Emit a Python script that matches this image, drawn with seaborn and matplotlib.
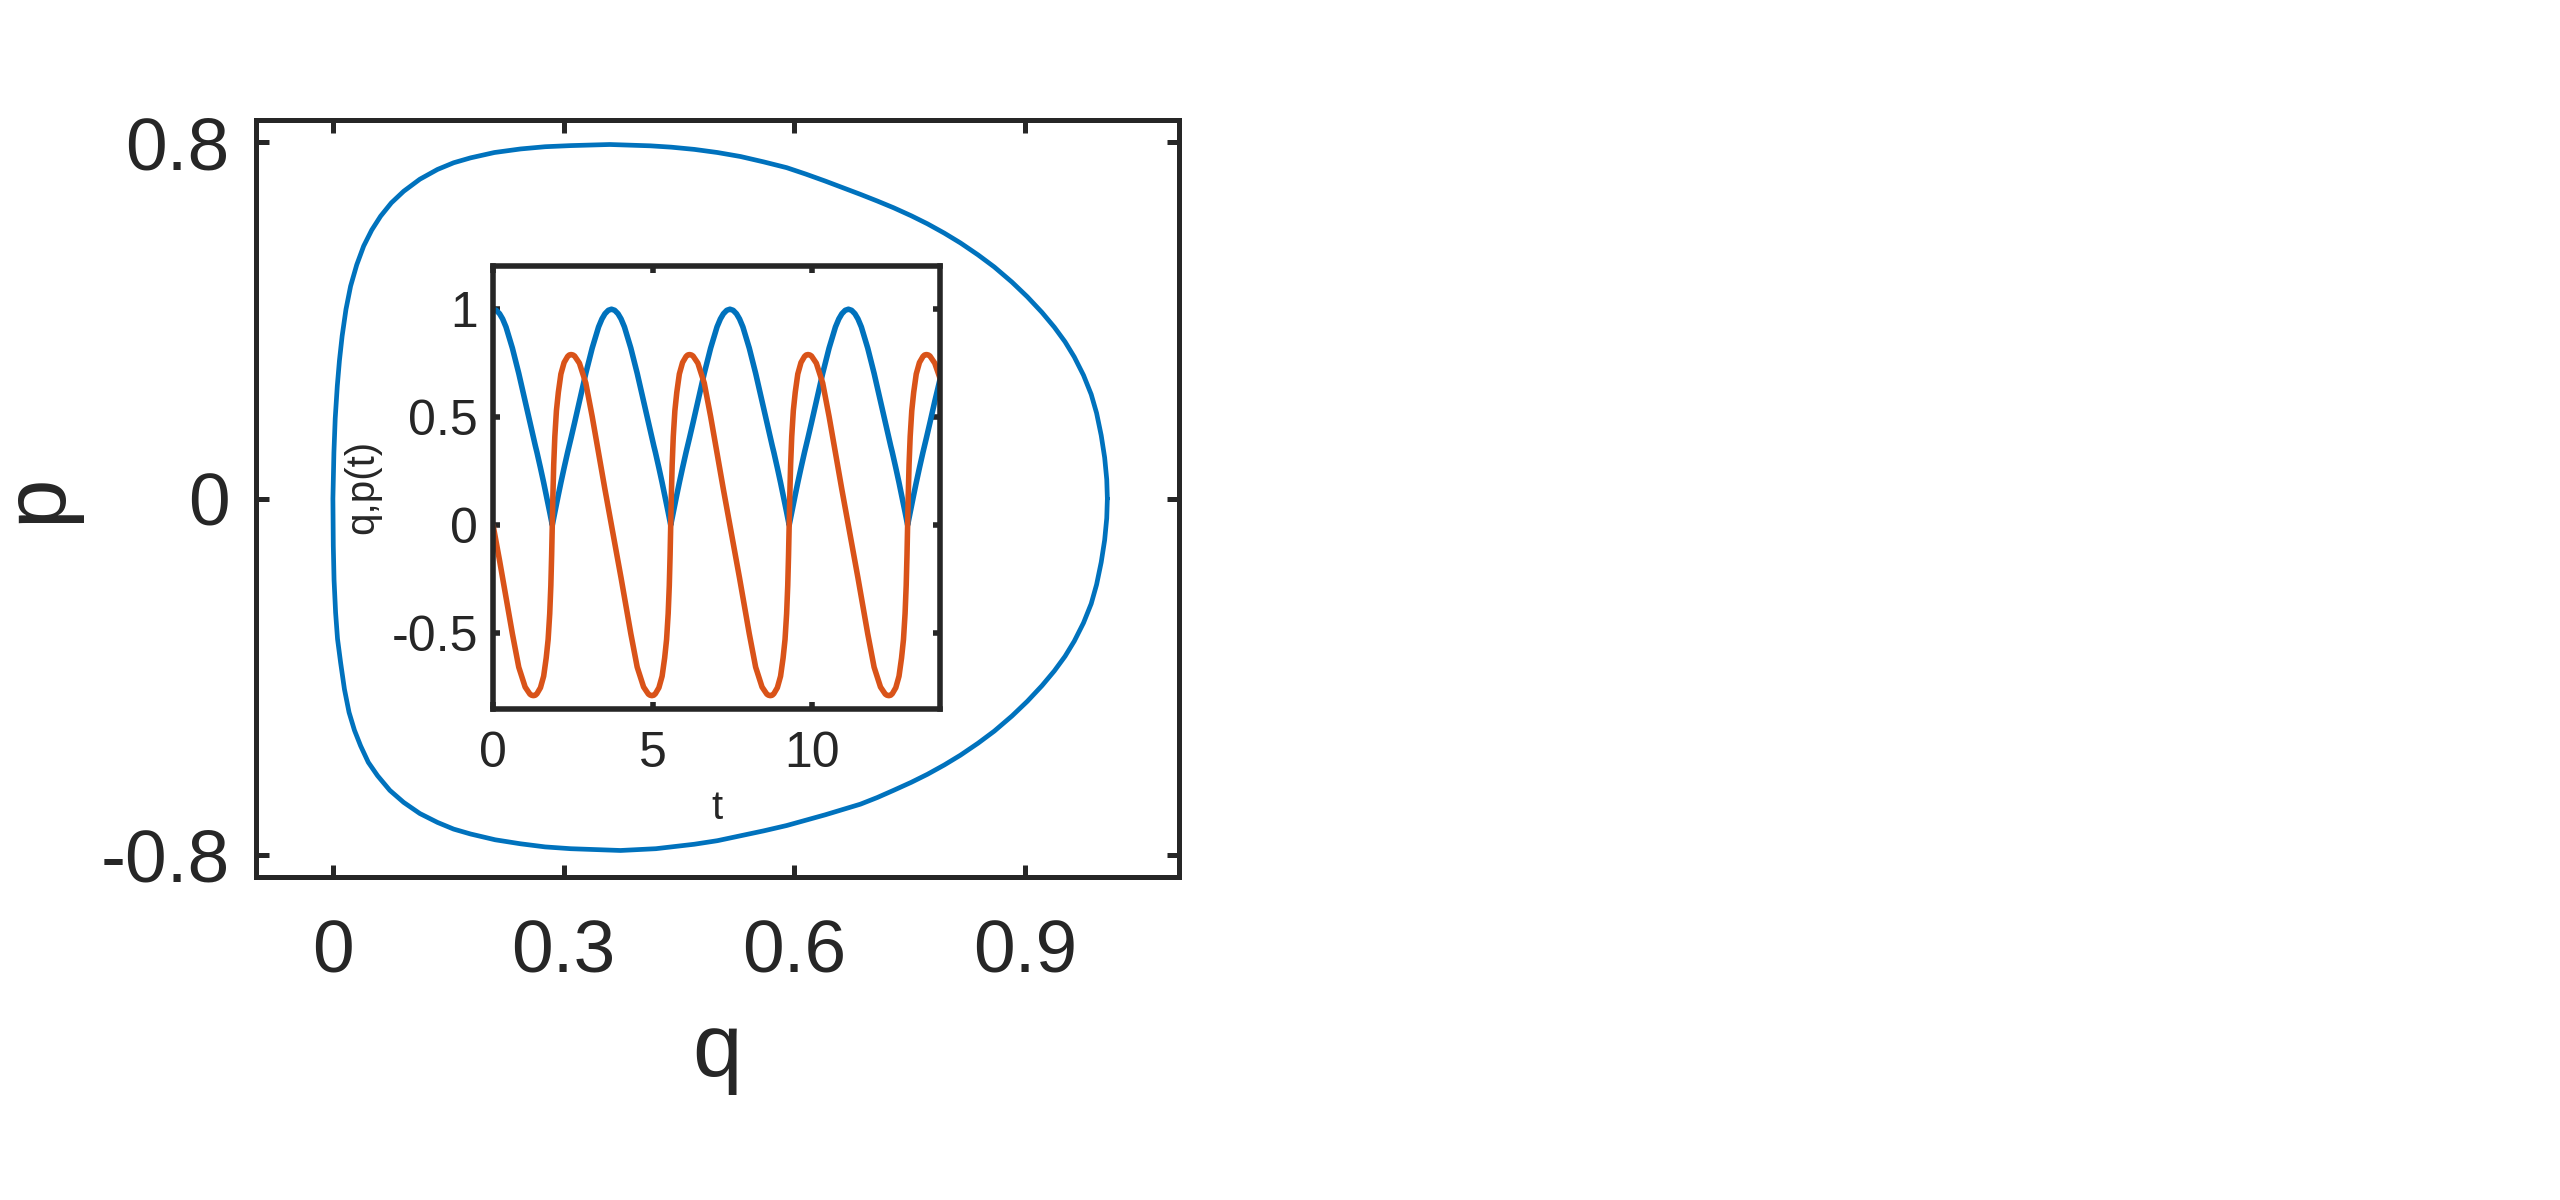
import matplotlib
matplotlib.use('Agg')
import matplotlib.pyplot as plt
import seaborn as sns
import pandas as pd

sns.set_theme(style='white')
plt.rcParams['font.family'] = ['Liberation Sans', 'DejaVu Sans']
plt.rcParams['axes.unicode_minus'] = False

BLUE = '#0072BD'
ORANGE = '#D95319'
INK = '#262626'

# -------------------------------------------------------------
# phase-space orbit (q, p)
# upper branch right -> left, then lower branch left -> right
# -------------------------------------------------------------
orbit_q = [1.007, 1.0062, 1.0035, 0.999, 0.993, 0.986, 0.976, 0.964, 0.952, 0.938,
           0.922, 0.903, 0.883, 0.860, 0.839, 0.816, 0.795, 0.773, 0.752, 0.729,
           0.708, 0.686, 0.663, 0.640, 0.615, 0.590, 0.560, 0.530, 0.500, 0.470, 0.440,
           0.413, 0.360, 0.309, 0.276, 0.244, 0.210, 0.179, 0.157, 0.136, 0.113,
           0.092, 0.076, 0.062, 0.0505, 0.040, 0.031, 0.023, 0.017, 0.012, 0.0085,
           0.0057, 0.003, 0.0013, 0.0,
           0.0005, 0.0015, 0.0035, 0.006, 0.010, 0.015, 0.021, 0.028, 0.036, 0.046,
           0.058, 0.074, 0.092, 0.113, 0.136, 0.157, 0.179, 0.211, 0.244, 0.276,
           0.309, 0.374, 0.420, 0.470, 0.500, 0.530, 0.560, 0.590, 0.615, 0.640,
           0.663, 0.686, 0.708, 0.729, 0.752, 0.773, 0.795, 0.816, 0.839, 0.860,
           0.883, 0.903, 0.922, 0.938, 0.952, 0.964, 0.976, 0.986, 0.993, 0.999,
           1.0035, 1.0062, 1.007]
orbit_p = [0.0, 0.043, 0.092, 0.142, 0.192, 0.234, 0.277, 0.318, 0.352, 0.385,
           0.418, 0.453, 0.486, 0.520, 0.547, 0.574, 0.596, 0.617, 0.635, 0.653,
           0.668, 0.683, 0.698, 0.713, 0.7285, 0.743, 0.756, 0.768, 0.777, 0.784, 0.789,
           0.792, 0.795, 0.7925, 0.790, 0.785, 0.777, 0.765, 0.754, 0.739, 0.717,
           0.690, 0.664, 0.634, 0.603, 0.567, 0.525, 0.477, 0.425, 0.365, 0.310,
           0.253, 0.180, 0.103, 0.0,
           -0.106, -0.183, -0.256, -0.315, -0.368, -0.428, -0.480, -0.520, -0.555, -0.592,
           -0.622, -0.655, -0.682, -0.707, -0.727, -0.742, -0.753, -0.766, -0.775, -0.782,
           -0.786, -0.790, -0.786, -0.776, -0.768, -0.757, -0.746, -0.734, -0.722, -0.710,
           -0.698, -0.686, -0.671, -0.655, -0.637, -0.619, -0.598, -0.576, -0.549, -0.522,
           -0.488, -0.455, -0.420, -0.387, -0.354, -0.320, -0.279, -0.236, -0.193, -0.143,
           -0.093, -0.044, 0.0]

# -------------------------------------------------------------
# time series for the inset (four cycles)
# -------------------------------------------------------------
t_vals = ([0.000, 0.100, 0.205, 0.300, 0.405, 0.605, 0.805, 1.005, 1.155, 1.205, 1.265,
           1.325, 1.375, 1.485, 1.585, 1.665, 1.725, 1.775, 1.810, 1.835, 1.855,
           1.875, 1.900, 1.935, 1.985, 2.045, 2.125, 2.225, 2.335, 2.385, 2.445,
           2.505, 2.555, 2.705, 2.905, 3.105, 3.305, 3.410, 3.505, 3.610, 3.710]
          + [3.810, 3.915, 4.010, 4.115, 4.315, 4.515, 4.715, 4.865, 4.915, 4.975,
             5.035, 5.085, 5.195, 5.295, 5.375, 5.435, 5.485, 5.520, 5.545, 5.565,
             5.585, 5.610, 5.645, 5.695, 5.755, 5.835, 5.935, 6.045, 6.095, 6.155,
             6.215, 6.265, 6.415, 6.615, 6.815, 7.015, 7.120, 7.215, 7.320, 7.420]
          + [7.520, 7.625, 7.720, 7.825, 8.025, 8.225, 8.425, 8.575, 8.625, 8.685,
             8.745, 8.795, 8.905, 9.005, 9.085, 9.145, 9.195, 9.230, 9.255, 9.275,
             9.295, 9.320, 9.355, 9.405, 9.465, 9.545, 9.645, 9.755, 9.805, 9.865,
             9.925, 9.975, 10.125, 10.325, 10.525, 10.725, 10.830, 10.925, 11.030, 11.130]
          + [11.230, 11.335, 11.430, 11.535, 11.735, 11.935, 12.135, 12.285, 12.335, 12.395,
             12.455, 12.505, 12.615, 12.715, 12.795, 12.855, 12.905, 12.940, 12.965, 12.985,
             13.005, 13.030, 13.065, 13.115, 13.175, 13.255, 13.355, 13.465, 13.515, 13.575,
             13.635, 13.685, 13.835, 14.000])

q_vals = ([1.000, 0.995, 0.979, 0.955, 0.918, 0.820, 0.703, 0.573, 0.475, 0.442, 0.405,
           0.367, 0.337, 0.265, 0.197, 0.140, 0.097, 0.060, 0.034, 0.015, 0.000,
           0.015, 0.034, 0.060, 0.097, 0.140, 0.197, 0.265, 0.337, 0.367, 0.405,
           0.442, 0.475, 0.573, 0.703, 0.820, 0.918, 0.955, 0.979, 0.995, 1.000]
          + [0.995, 0.979, 0.955, 0.918, 0.820, 0.703, 0.573, 0.475, 0.442, 0.405,
             0.367, 0.337, 0.265, 0.197, 0.140, 0.097, 0.060, 0.034, 0.015, 0.000,
             0.015, 0.034, 0.060, 0.097, 0.140, 0.197, 0.265, 0.337, 0.367, 0.405,
             0.442, 0.475, 0.573, 0.703, 0.820, 0.918, 0.955, 0.979, 0.995, 1.000]
          + [0.995, 0.979, 0.955, 0.918, 0.820, 0.703, 0.573, 0.475, 0.442, 0.405,
             0.367, 0.337, 0.265, 0.197, 0.140, 0.097, 0.060, 0.034, 0.015, 0.000,
             0.015, 0.034, 0.060, 0.097, 0.140, 0.197, 0.265, 0.337, 0.367, 0.405,
             0.442, 0.475, 0.573, 0.703, 0.820, 0.918, 0.955, 0.979, 0.995, 1.000]
          + [0.995, 0.979, 0.955, 0.918, 0.820, 0.703, 0.573, 0.475, 0.442, 0.405,
             0.367, 0.337, 0.265, 0.197, 0.140, 0.097, 0.060, 0.034, 0.015, 0.000,
             0.015, 0.034, 0.060, 0.097, 0.140, 0.197, 0.265, 0.337, 0.367, 0.405,
             0.442, 0.475, 0.573, 0.675])

p_vals = ([0.000, -0.080, -0.165, -0.245, -0.333, -0.503, -0.658, -0.750, -0.783, -0.788, -0.790,
           -0.788, -0.781, -0.753, -0.700, -0.615, -0.530, -0.410, -0.280, -0.140, 0.000,
           0.140, 0.280, 0.410, 0.530, 0.615, 0.700, 0.753, 0.781, 0.788, 0.790,
           0.788, 0.783, 0.750, 0.658, 0.503, 0.333, 0.245, 0.165, 0.080, 0.000]
          + [-0.080, -0.165, -0.245, -0.333, -0.503, -0.658, -0.750, -0.783, -0.788, -0.790,
             -0.788, -0.781, -0.753, -0.700, -0.615, -0.530, -0.410, -0.280, -0.140, 0.000,
             0.140, 0.280, 0.410, 0.530, 0.615, 0.700, 0.753, 0.781, 0.788, 0.790,
             0.788, 0.783, 0.750, 0.658, 0.503, 0.333, 0.245, 0.165, 0.080, 0.000]
          + [-0.080, -0.165, -0.245, -0.333, -0.503, -0.658, -0.750, -0.783, -0.788, -0.790,
             -0.788, -0.781, -0.753, -0.700, -0.615, -0.530, -0.410, -0.280, -0.140, 0.000,
             0.140, 0.280, 0.410, 0.530, 0.615, 0.700, 0.753, 0.781, 0.788, 0.790,
             0.788, 0.783, 0.750, 0.658, 0.503, 0.333, 0.245, 0.165, 0.080, 0.000]
          + [-0.080, -0.165, -0.245, -0.333, -0.503, -0.658, -0.750, -0.783, -0.788, -0.790,
             -0.788, -0.781, -0.753, -0.700, -0.615, -0.530, -0.410, -0.280, -0.140, 0.000,
             0.140, 0.280, 0.410, 0.530, 0.615, 0.700, 0.753, 0.781, 0.788, 0.790,
             0.788, 0.783, 0.750, 0.680])

main_xticks = [0, 0.3, 0.6, 0.9]
main_xticklabels = ['0', '0.3', '0.6', '0.9']
main_yticks = [-0.8, 0, 0.8]
main_yticklabels = ['-0.8', '0', '0.8']
inset_xticks = [0, 5, 10]
inset_xticklabels = ['0', '5', '10']
inset_yticks = [-0.5, 0, 0.5, 1]
inset_yticklabels = ['-0.5', '0', '0.5', '1']


def box_style(ax, lw, tick_len, size, pad_x, pad_y):
    for side in ax.spines.values():
        side.set_visible(True)
        side.set_linewidth(lw)
        side.set_color(INK)
    ax.tick_params(direction='in', top=True, right=True, bottom=True, left=True,
                   length=tick_len, width=lw, colors=INK, labelsize=size)
    ax.tick_params(axis='x', pad=pad_x)
    ax.tick_params(axis='y', pad=pad_y)
    ax.set_facecolor('white')


fig = plt.figure(figsize=(25.6, 12), dpi=100)

# main phase portrait
ax = fig.add_axes([0.1, 0.269, 0.3605, 0.631])
sns.lineplot(x=orbit_q, y=orbit_p, sort=False, estimator=None, color=BLUE,
             linewidth=3.4, ax=ax)
ax.set_xlim(-0.1, 1.1)
ax.set_ylim(-0.85, 0.85)
ax.set_xticks(main_xticks)
ax.set_xticklabels(main_xticklabels)
ax.set_yticks(main_yticks)
ax.set_yticklabels(main_yticklabels)
box_style(ax, lw=3.6, tick_len=9, size=54, pad_x=30, pad_y=19)
ax.set_xlabel('q', fontsize=64, color=INK, labelpad=17)
ax.set_ylabel('p', fontsize=64, color=INK, labelpad=15)

# inset: q(t), p(t)
ins = fig.add_axes([0.1926, 0.4095, 0.1746, 0.3688])
n = len(t_vals)
df = pd.DataFrame({'t': t_vals + t_vals,
                   'value': q_vals + p_vals,
                   'series': ['q'] * n + ['p'] * n})
sns.lineplot(data=df, x='t', y='value', hue='series', hue_order=['q', 'p'],
             palette={'q': BLUE, 'p': ORANGE}, sort=False, estimator=None,
             linewidth=4.0, legend=False, ax=ins)
ins.set_xlim(0, 14.0)
ins.set_ylim(-0.85, 1.2)
ins.set_xticks(inset_xticks)
ins.set_xticklabels(inset_xticklabels)
ins.set_yticks(inset_yticks)
ins.set_yticklabels(inset_yticklabels)
box_style(ins, lw=4.0, tick_len=5, size=36, pad_x=16, pad_y=11)
ins.set_xlabel('t', fontsize=29, color=INK, labelpad=9)
ins.set_ylabel('q,p(t)', fontsize=29, color=INK, labelpad=7)

fig.savefig('out.png', dpi=100, facecolor='white')
